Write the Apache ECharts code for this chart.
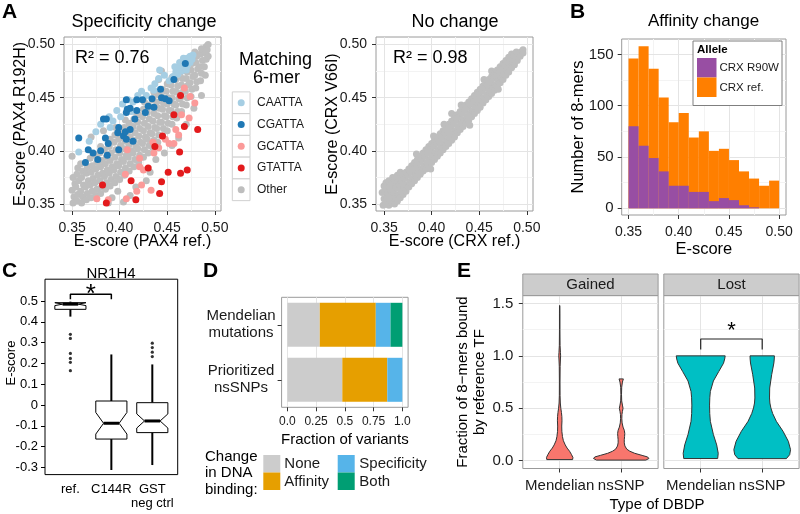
<!DOCTYPE html>
<html><head><meta charset="utf-8">
<script src="https://cdn.jsdelivr.net/npm/echarts@6.0.0/dist/echarts.min.js"></script>
<style>html,body{margin:0;padding:0;background:#fff}#c{width:800px;height:514px}</style>
</head><body><div id="c"></div>
<script>
// ================= DATA =================
// Panel A – Specificity change (PAX4)
const aTicks = [0.35, 0.40, 0.45, 0.50];
const aMinor = [0.375, 0.425, 0.475];
const aLegendLabels = ['CAATTA', 'CGATTA', 'GCATTA', 'GTATTA', 'Other'];
const aOther = [
[0.351,0.351],[0.352,0.357],[0.350,0.363],[0.353,0.369],[0.351,0.375],[0.350,0.395],
[0.355,0.353],[0.356,0.359],[0.354,0.366],[0.357,0.372],[0.355,0.378],[0.356,0.384],
[0.360,0.351],[0.361,0.357],[0.359,0.362],[0.362,0.368],[0.360,0.375],[0.361,0.381],[0.359,0.388],
[0.365,0.354],[0.366,0.360],[0.364,0.366],[0.367,0.372],[0.365,0.379],[0.366,0.385],
[0.370,0.356],[0.371,0.362],[0.369,0.368],[0.372,0.374],[0.370,0.380],[0.371,0.386],[0.369,0.393],[0.370,0.413],
[0.375,0.358],[0.376,0.364],[0.374,0.370],[0.377,0.377],[0.375,0.383],[0.376,0.389],[0.374,0.396],
[0.380,0.360],[0.381,0.366],[0.379,0.372],[0.382,0.379],[0.380,0.385],[0.381,0.391],[0.379,0.398],[0.380,0.404],
[0.385,0.364],[0.386,0.370],[0.384,0.376],[0.387,0.382],[0.385,0.388],[0.386,0.394],[0.384,0.401],[0.383,0.419],
[0.390,0.367],[0.391,0.373],[0.389,0.379],[0.392,0.385],[0.390,0.391],[0.391,0.398],[0.389,0.404],[0.390,0.411],
[0.395,0.370],[0.396,0.376],[0.394,0.382],[0.397,0.388],[0.395,0.394],[0.396,0.401],[0.394,0.408],[0.395,0.415],[0.396,0.422],
[0.400,0.373],[0.401,0.380],[0.399,0.386],[0.402,0.392],[0.400,0.398],[0.401,0.405],[0.399,0.411],[0.400,0.418],
[0.405,0.377],[0.406,0.384],[0.404,0.390],[0.407,0.396],[0.405,0.402],[0.406,0.409],[0.404,0.415],[0.405,0.422],[0.406,0.429],
[0.410,0.381],[0.411,0.388],[0.409,0.394],[0.412,0.400],[0.410,0.406],[0.411,0.413],[0.409,0.419],[0.410,0.426],
[0.415,0.385],[0.416,0.392],[0.414,0.398],[0.417,0.404],[0.415,0.410],[0.416,0.417],[0.414,0.423],[0.415,0.430],[0.416,0.437],
[0.420,0.389],[0.421,0.396],[0.419,0.402],[0.422,0.408],[0.420,0.414],[0.421,0.421],[0.419,0.427],[0.420,0.434],
[0.425,0.394],[0.426,0.401],[0.424,0.407],[0.427,0.413],[0.425,0.419],[0.426,0.426],[0.424,0.432],[0.425,0.439],[0.426,0.446],
[0.430,0.398],[0.431,0.405],[0.429,0.411],[0.432,0.417],[0.430,0.423],[0.431,0.430],[0.429,0.436],[0.430,0.443],
[0.435,0.403],[0.436,0.410],[0.434,0.416],[0.437,0.422],[0.435,0.428],[0.436,0.435],[0.434,0.441],[0.435,0.448],[0.436,0.455],
[0.440,0.408],[0.441,0.415],[0.439,0.421],[0.442,0.427],[0.440,0.433],[0.441,0.440],[0.439,0.446],[0.440,0.453],[0.441,0.467],
[0.445,0.414],[0.446,0.421],[0.444,0.427],[0.447,0.433],[0.445,0.439],[0.446,0.445],[0.444,0.451],[0.445,0.458],[0.444,0.475],
[0.450,0.419],[0.451,0.426],[0.449,0.432],[0.452,0.438],[0.450,0.444],[0.451,0.450],[0.449,0.456],[0.450,0.463],
[0.455,0.425],[0.456,0.432],[0.454,0.438],[0.457,0.444],[0.455,0.450],[0.456,0.456],[0.454,0.462],[0.455,0.469],
[0.460,0.431],[0.461,0.437],[0.459,0.443],[0.462,0.449],[0.460,0.455],[0.461,0.461],[0.459,0.467],[0.460,0.474],
[0.465,0.437],[0.466,0.444],[0.464,0.450],[0.467,0.456],[0.465,0.462],[0.466,0.468],[0.464,0.474],[0.465,0.480],
[0.470,0.443],[0.471,0.450],[0.469,0.456],[0.472,0.462],[0.470,0.468],[0.471,0.474],[0.469,0.480],[0.470,0.486],
[0.475,0.451],[0.476,0.458],[0.474,0.464],[0.477,0.470],[0.475,0.476],[0.476,0.482],[0.474,0.488],
[0.480,0.459],[0.481,0.465],[0.479,0.471],[0.482,0.477],[0.480,0.483],[0.481,0.489],[0.479,0.493],
[0.485,0.466],[0.486,0.473],[0.484,0.479],[0.487,0.485],[0.485,0.491],[0.486,0.496],
[0.490,0.471],[0.489,0.479],[0.491,0.486],[0.490,0.492],[0.491,0.498],
[0.493,0.489],[0.492,0.495],[0.493,0.500],
[0.392,0.356],[0.398,0.362],[0.404,0.352],[0.411,0.358],[0.417,0.366],[0.428,0.372],[0.432,0.380],
[0.438,0.392],[0.447,0.398],[0.455,0.405],[0.462,0.412],[0.470,0.425],[0.478,0.440],[0.486,0.452],[0.388,0.351]
];
const aCAATTA = [
[0.452,0.466],[0.456,0.470],[0.459,0.474],[0.462,0.478],[0.465,0.481],[0.468,0.484],[0.471,0.487],[0.474,0.489],
[0.477,0.490],[0.461,0.472],[0.465,0.475],[0.468,0.478],[0.471,0.480],[0.474,0.483],[0.467,0.487],[0.463,0.483],
[0.470,0.476],[0.476,0.486],[0.458,0.479],
[0.357,0.399],[0.368,0.409],[0.375,0.418],[0.380,0.425],[0.389,0.432],[0.393,0.428],[0.397,0.438],[0.403,0.444],
[0.409,0.448],[0.414,0.446],[0.419,0.452],[0.423,0.456],[0.428,0.452],[0.433,0.459],[0.437,0.463],[0.441,0.468],
[0.442,0.476],[0.447,0.471],[0.401,0.432],[0.412,0.437],[0.436,0.457],[0.390,0.422]
];
const aCGATTA = [
[0.357,0.412],[0.367,0.401],[0.364,0.389],[0.372,0.398],[0.377,0.392],[0.380,0.400],[0.387,0.396],[0.385,0.412],
[0.388,0.407],[0.383,0.430],[0.386,0.430],[0.398,0.417],[0.399,0.422],[0.404,0.414],[0.406,0.418],[0.407,0.411],
[0.414,0.409],[0.411,0.420],[0.416,0.430],[0.408,0.439],[0.407,0.436],[0.411,0.440],[0.407,0.448],[0.418,0.448],
[0.418,0.438],[0.424,0.448],[0.427,0.436],[0.430,0.442],[0.434,0.449],[0.436,0.441],[0.443,0.458],[0.444,0.450],
[0.448,0.449],[0.452,0.447],[0.457,0.467],[0.469,0.482],[0.399,0.401]
];
const aGCATTA = [
[0.468,0.459],[0.474,0.451],[0.465,0.434],[0.473,0.431],[0.459,0.420],[0.462,0.415],[0.452,0.407],[0.457,0.407],
[0.448,0.411],[0.436,0.398],[0.421,0.393],[0.408,0.401],[0.421,0.385],[0.425,0.382],[0.406,0.378],[0.423,0.368],
[0.418,0.362],[0.407,0.355],[0.433,0.363],[0.376,0.355],[0.388,0.354],[0.435,0.408],[0.479,0.445],[0.441,0.403]
];
const aGTATTA = [
[0.464,0.452],[0.457,0.434],[0.468,0.423],[0.482,0.420],[0.445,0.414],[0.437,0.404],[0.463,0.399],[0.430,0.384],
[0.451,0.380],[0.464,0.379],[0.471,0.382],[0.444,0.371],[0.412,0.372],[0.382,0.368],[0.442,0.360],[0.417,0.354],[0.386,0.351]
];
const aR2Labels = ['R\u00B2 = 0.76', 'R\u00B2 = 0.98'];
// Panel A – No change (CRX V66I)
const crxPoints = [
[0.349,0.349],[0.350,0.355],[0.348,0.361],[0.350,0.367],
[0.352,0.351],[0.353,0.357],[0.351,0.363],[0.352,0.370],
[0.355,0.349],[0.356,0.354],[0.354,0.360],[0.356,0.366],[0.355,0.372],
[0.358,0.352],[0.359,0.357],[0.357,0.363],[0.358,0.369],[0.359,0.375],
[0.361,0.350],[0.362,0.355],[0.360,0.361],[0.362,0.367],[0.361,0.373],
[0.364,0.353],[0.365,0.359],[0.363,0.365],[0.365,0.371],[0.364,0.377],
[0.367,0.356],[0.368,0.362],[0.366,0.368],[0.368,0.374],[0.367,0.380],
[0.370,0.359],[0.371,0.365],[0.369,0.371],[0.370,0.377],
[0.373,0.362],[0.374,0.368],[0.372,0.374],[0.373,0.380],
[0.376,0.366],[0.377,0.371],[0.375,0.377],[0.376,0.383],
[0.379,0.369],[0.380,0.374],[0.378,0.380],[0.379,0.386],
[0.382,0.372],[0.383,0.377],[0.381,0.383],[0.382,0.389],
[0.385,0.375],[0.386,0.380],[0.384,0.386],[0.385,0.392],[0.384,0.397],
[0.388,0.378],[0.389,0.383],[0.387,0.389],[0.388,0.395],
[0.391,0.381],[0.392,0.386],[0.390,0.392],[0.391,0.398],
[0.394,0.383],[0.395,0.389],[0.393,0.395],[0.394,0.401],
[0.397,0.386],[0.398,0.392],[0.396,0.398],[0.397,0.404],[0.399,0.383],
[0.400,0.389],[0.401,0.395],[0.399,0.401],[0.400,0.407],
[0.403,0.392],[0.404,0.398],[0.402,0.404],[0.403,0.410],[0.402,0.414],
[0.406,0.395],[0.407,0.401],[0.405,0.407],[0.406,0.413],
[0.409,0.398],[0.410,0.404],[0.408,0.410],[0.409,0.416],
[0.412,0.401],[0.413,0.407],[0.411,0.413],[0.412,0.419],[0.413,0.425],
[0.415,0.404],[0.416,0.410],[0.414,0.416],[0.415,0.422],
[0.418,0.407],[0.419,0.413],[0.417,0.419],[0.418,0.425],
[0.421,0.410],[0.422,0.416],[0.420,0.422],[0.421,0.428],[0.421,0.435],
[0.424,0.413],[0.425,0.419],[0.423,0.425],[0.424,0.431],
[0.427,0.417],[0.428,0.423],[0.426,0.429],[0.427,0.434],
[0.430,0.420],[0.431,0.426],[0.429,0.432],[0.430,0.437],[0.431,0.443],
[0.433,0.423],[0.434,0.429],[0.432,0.435],[0.433,0.440],
[0.436,0.426],[0.437,0.432],[0.435,0.438],[0.436,0.443],
[0.439,0.429],[0.440,0.435],[0.438,0.441],[0.439,0.446],[0.440,0.424],
[0.442,0.432],[0.443,0.438],[0.441,0.444],[0.442,0.449],
[0.445,0.435],[0.446,0.441],[0.444,0.447],[0.445,0.452],
[0.448,0.438],[0.449,0.444],[0.447,0.450],[0.448,0.455],
[0.451,0.441],[0.452,0.447],[0.450,0.453],[0.451,0.458],
[0.454,0.445],[0.455,0.450],[0.453,0.456],[0.454,0.461],[0.455,0.467],
[0.457,0.448],[0.458,0.453],[0.456,0.459],[0.457,0.464],
[0.460,0.451],[0.461,0.456],[0.459,0.462],[0.460,0.467],
[0.463,0.454],[0.464,0.459],[0.462,0.465],[0.463,0.470],[0.463,0.475],
[0.466,0.457],[0.467,0.462],[0.465,0.468],[0.466,0.473],
[0.469,0.461],[0.470,0.466],[0.468,0.471],[0.469,0.476],[0.470,0.458],
[0.472,0.464],[0.473,0.469],[0.471,0.474],[0.472,0.479],
[0.475,0.467],[0.476,0.472],[0.474,0.477],[0.475,0.482],
[0.478,0.471],[0.479,0.476],[0.477,0.481],[0.478,0.485],
[0.481,0.474],[0.482,0.479],[0.480,0.484],[0.481,0.488],
[0.484,0.478],[0.485,0.482],[0.483,0.487],[0.484,0.491],
[0.487,0.481],[0.488,0.486],[0.486,0.490],
[0.490,0.485],[0.491,0.489],[0.489,0.493],
[0.493,0.489],[0.494,0.493],
[0.496,0.492],[0.496,0.495]
];
// Panel B – Affinity change histogram
const bBinEdges = [0.35,0.36,0.37,0.38,0.39,0.40,0.41,0.42,0.43,0.44,0.45,0.46,0.47,0.48,0.49,0.50];
const bRefCounts  = [146,158,136,108,84,93,69,75,56,58,47,36,29,22,27];
const bR90WCounts = [80,61,49,36,22,22,16,16,7,10,8,3,1,0,0];
const bXTicks = [0.35, 0.40, 0.45, 0.50];
const bXMinor = [0.375, 0.425, 0.475];
const bYTicks = [0, 50, 100, 150];
const bYMinor = [25, 75, 125];
const bLegendLabels = ['CRX R90W', 'CRX ref.'];
// Panel C – NR1H4 boxplots
const cCats = ['ref.', 'C144R', 'GST\nneg ctrl'];
// [x, lowWhisker, Q1, notchLow, median, notchHigh, Q3, highWhisker]
const cBoxes = [
  [1, 0.425, 0.460, 0.478, 0.485, 0.492, 0.492, 0.497],
  [2, -0.313, -0.164, -0.140, -0.088, -0.036, 0.019, 0.243],
  [3, -0.289, -0.133, -0.111, -0.077, -0.043, 0.011, 0.195]
];
const cOutliers = [[1,0.340],[1,0.320],[1,0.248],[1,0.224],[1,0.205],[1,0.165],[3,0.297],[3,0.276],[3,0.254],[3,0.233]];
const cYTicks = [-0.3,-0.2,-0.1,0,0.1,0.2,0.3,0.4,0.5];
const cBracket = [[1,0.508],[1,0.532],[2,0.532],[2,0.508]];
const cStar = [[1.5,0.561]];
// Panel D – fraction of variants
const dCats = ['Prioritized\nnsSNPs', 'Mendelian\nmutations'];
const dNone        = [0.478, 0.282];
const dAffinity    = [0.391, 0.487];
const dSpecificity = [0.131, 0.128];
const dBoth        = [0.000, 0.103];
const dXTicks  = [0, 0.25, 0.5, 0.75, 1];
const dXLabels = ['0.0', '0.25', '0.5', '0.75', '1.0'];
const dLegendLabels = ['None', 'Affinity', 'Specificity', 'Both'];
// Panel E – violins
const eCats = ['Mendelian', 'nsSNP'];
const eFacets = ['Gained', 'Lost'];
const eYTicks = [0, 0.5, 1.0, 1.5];
const eYMinor = [0.25, 0.75, 1.25];
const gainedMendelianY = [0.01,0.03,0.06,0.09,0.12,0.15,0.19,0.23,0.28,0.33,0.38,0.42,0.46,0.50,0.55,0.62,0.75,0.90,0.97,1.00,1.03,1.10,1.25,1.40,1.48];
const gainedMendelianW = [0.21,0.215,0.19,0.16,0.12,0.09,0.06,0.045,0.035,0.033,0.037,0.035,0.028,0.018,0.01,0.006,0.005,0.007,0.012,0.015,0.012,0.006,0.004,0.004,0.003];
const gainedNsSNPY = [0.005,0.02,0.035,0.05,0.07,0.09,0.11,0.14,0.17,0.20,0.23,0.26,0.29,0.32,0.36,0.40,0.44,0.47,0.50,0.53,0.57,0.63,0.70,0.75,0.78];
const gainedNsSNPW = [0.40,0.45,0.43,0.34,0.22,0.14,0.09,0.06,0.05,0.05,0.055,0.058,0.05,0.03,0.015,0.01,0.012,0.02,0.03,0.02,0.008,0.005,0.008,0.02,0.035];
const lostMendelianY = [0.02,0.07,0.15,0.25,0.375,0.45,0.53,0.60,0.66,0.76,0.85,0.93,0.97,1.00];
const lostMendelianW = [0.276,0.285,0.26,0.206,0.157,0.147,0.144,0.148,0.157,0.206,0.293,0.371,0.39,0.398];
const lostNsSNPY = [0.019,0.057,0.105,0.184,0.28,0.375,0.45,0.503,0.55,0.598,0.693,0.82,0.932,0.97,1.00];
const lostNsSNPW = [0.393,0.447,0.461,0.425,0.339,0.23,0.17,0.141,0.125,0.119,0.122,0.154,0.19,0.196,0.198];
const eBracket = [[1,1.06],[1,1.161],[2,1.161],[2,1.06]];
const eStar = [[1.5,1.282]];

// ================= STYLE =================
const F = "'Liberation Sans', Arial, Helvetica, sans-serif";
const TXT = '#1a1a1a', BORDER = '#9a9a9a', MAJ = '#E4E4E4', MINC = '#F3F3F3', TICK = '#333333';
const colA = ['#A6CEE3', '#1F78B4', '#FB9A99', '#E31A1C', '#BEBEBE'];
const colB = ['#984EA3', '#FF7F00'];
const colD = ['#CCCCCC', '#E69F00', '#56B4E9', '#009E73'];
const colE = ['#F8766D', '#00BFC4'];

const chart = echarts.init(document.getElementById('c'), null, {renderer: 'canvas', width: 800, height: 514});

const gridDefs = [
  {left: 64, top: 37, width: 157, height: 174},        // 0 A left
  {left: 376, top: 37, width: 157, height: 174},       // 1 A right
  {left: 621.7, top: 39, width: 164.3, height: 176},   // 2 B
  {left: 45, top: 279.2, width: 132.7, height: 195.4}, // 3 C
  {left: 281.6, top: 297.3, width: 126.5, height: 110},// 4 D
  {left: 522.8, top: 295.6, width: 135.3, height: 172.9}, // 5 E gained
  {left: 663.8, top: 295.6, width: 135.3, height: 172.9}  // 6 E lost
];
const grids = gridDefs.map((g, i) => Object.assign({
  show: true, backgroundColor: '#fff', borderColor: i === 3 ? '#000' : BORDER, borderWidth: 1,
  containLabel: false, outerBoundsMode: 'none'
}, g));

function vAxis(o) {
  const a = {
    type: 'value', gridIndex: o.g, min: o.min, max: o.max, position: o.pos, z: 2,
    axisLine: {show: false, onZero: false},
    axisTick: {show: o.tickShow !== false, customValues: o.ticks, length: 4, inside: false,
      lineStyle: {color: o.tickColor || TICK, width: 1}},
    axisLabel: {show: o.labelShow !== false, customValues: o.ticks, formatter: o.fmt, margin: o.margin,
      color: o.labelColor || TXT, fontSize: o.fs, fontFamily: F, hideOverlap: false, lineHeight: o.lh,
      showMinLabel: true, showMaxLabel: true},
    splitLine: {show: !!o.split, lineStyle: {color: MAJ, width: 1}},
    minorTick: {show: false}, minorSplitLine: {show: false},
    nameMoveOverlap: false
  };
  if (o.name) {
    a.name = o.name; a.nameLocation = 'middle'; a.nameGap = o.gap;
    a.nameTextStyle = {fontFamily: F, fontSize: o.nfs, color: '#000', lineHeight: o.nlh};
  }
  return a;
}
function minorAxis(g, min, max, vals, pos) {
  return {type: 'value', gridIndex: g, min: min, max: max, position: pos, z: 1,
    axisLine: {show: false, onZero: false}, axisTick: {show: false, customValues: vals},
    axisLabel: {show: false, customValues: vals},
    splitLine: {show: true, lineStyle: {color: MINC, width: 1}}};
}
const f2 = v => v.toFixed(2);
const f1 = v => v.toFixed(1);
const cLine = (v, k) => (cCats[Math.round(v) - 1].split('\n')[k] || '');

const xAxes = [
  vAxis({g:0, min:0.3415, max:0.5065, pos:'bottom', ticks:aTicks, fmt:f2, margin:10, fs:14, split:true,
         name:'E-score (PAX4 ref.)', gap:23, nfs:16}),
  vAxis({g:1, min:0.3415, max:0.5065, pos:'bottom', ticks:aTicks, fmt:f2, margin:10, fs:14, split:true,
         name:'E-score (CRX ref.)', gap:23, nfs:16}),
  vAxis({g:2, min:0.3432, max:0.5068, pos:'bottom', ticks:bXTicks, fmt:f2, margin:10, fs:14, split:true,
         name:'E-score', gap:26, nfs:16.5}),
  // C: first line of each category label
  vAxis({g:3, min:0.38, max:3.62, pos:'bottom', ticks:[1,2,3], fmt:v => cLine(v, 0), margin:8.5, fs:13,
         tickShow:false, labelColor:'#000'}),
  vAxis({g:4, min:-0.05, max:1.05, pos:'bottom', ticks:dXTicks, fmt:v => dXLabels[dXTicks.indexOf(v)],
         margin:8, fs:12, split:true, name:'Fraction of variants', gap:25, nfs:15}),
  vAxis({g:5, min:0.4, max:2.6, pos:'bottom', ticks:[1,2], fmt:v => eCats[Math.round(v)-1], margin:9.5, fs:15, split:true}),
  vAxis({g:6, min:0.4, max:2.6, pos:'bottom', ticks:[1,2], fmt:v => eCats[Math.round(v)-1], margin:9.5, fs:15, split:true}),
  minorAxis(0, 0.3415, 0.5065, aMinor, 'bottom'),
  minorAxis(1, 0.3415, 0.5065, aMinor, 'bottom'),
  minorAxis(2, 0.3432, 0.5068, bXMinor, 'bottom'),
  // C: second line of category labels ("neg ctrl")
  vAxis({g:3, min:0.38, max:3.62, pos:'bottom', ticks:[3], fmt:v => cLine(v, 1), margin:22.5, fs:13,
         tickShow:false, labelColor:'#000'})
];
const yAxes = [
  vAxis({g:0, min:0.3435, max:0.507, pos:'left', ticks:aTicks, fmt:f2, margin:9, fs:14, split:true,
         name:'E-score (PAX4 R192H)', gap:35.5, nfs:16}),
  vAxis({g:1, min:0.3435, max:0.507, pos:'left', ticks:aTicks, fmt:f2, margin:9, fs:14, split:true,
         name:'E-score (CRX V66I)', gap:35.5, nfs:16}),
  vAxis({g:2, min:-6.5, max:165, pos:'left', ticks:bYTicks, fmt:v => String(v), margin:8, fs:15, split:true,
         name:'Number of 8-mers', gap:35, nfs:16.5}),
  vAxis({g:3, min:-0.335, max:0.605, pos:'left', ticks:cYTicks,
         fmt:v => (Math.abs(v) < 1e-9 ? '0' : v.toFixed(1)), margin:7, fs:13, tickColor:'#000', labelColor:'#000'}),
  {type:'category', gridIndex:4, data:dCats, position:'left', z:2,
    axisLine:{show:false, onZero:false}, axisTick:{show:true, alignWithLabel:true, length:4, lineStyle:{color:TICK}},
    axisLabel:{align:'center', margin:40.6, fontSize:15, fontFamily:F, color:TXT, lineHeight:17, interval:0},
    splitLine:{show:false}},
  vAxis({g:5, min:-0.075, max:1.575, pos:'left', ticks:eYTicks, fmt:f1, margin:9.5, fs:15, split:true,
         name:'Fraction of 8\u2212mers bound\nby reference TF', gap:34, nfs:15, nlh:17}),
  vAxis({g:6, min:-0.075, max:1.575, pos:'left', ticks:eYTicks, fmt:f1, margin:9.5, fs:15, split:true,
         tickShow:false, labelShow:false}),
  minorAxis(0, 0.3435, 0.507, aMinor, 'left'),
  minorAxis(1, 0.3435, 0.507, aMinor, 'left'),
  minorAxis(2, -6.5, 165, bYMinor, 'left'),
  minorAxis(5, -0.075, 1.575, eYMinor, 'left'),
  minorAxis(6, -0.075, 1.575, eYMinor, 'left')
];

// ================= SERIES =================
function scatter(data, color, idx) {
  return {type:'scatter', xAxisIndex:idx, yAxisIndex:idx, data:data, symbolSize:7,
    itemStyle:{color:color, opacity:1}, silent:true, z:3};
}
function hist(counts, color) {
  return {type:'custom', xAxisIndex:2, yAxisIndex:2, silent:true, z:3,
    data: counts.map((c, i) => [bBinEdges[i], bBinEdges[i+1], c]),
    encode:{x:[0,1], y:2},
    renderItem: function (params, api) {
      const a = api.coord([api.value(0), api.value(2)]);
      const b = api.coord([api.value(1), 0]);
      return {type:'rect', shape:{x:a[0], y:a[1], width:b[0]-a[0], height:b[1]-a[1]}, style:{fill:color}};
    }};
}
const BOX_HALF = 0.38;
const boxSeries = {
  type:'custom', xAxisIndex:3, yAxisIndex:3, silent:true, z:3, data:cBoxes,
  encode:{x:0, y:[1,2,3,4,5,6,7]},
  renderItem: function (params, api) {
    const x = api.value(0), wl = api.value(1), q1 = api.value(2), nl = api.value(3),
          md = api.value(4), nh = api.value(5), q3 = api.value(6), wh = api.value(7);
    const h = BOX_HALF;
    const P = (xx, yy) => api.coord([xx, yy]);
    const poly = [P(x-h,q3), P(x+h,q3), P(x+h,nh), P(x+h/2,md), P(x+h,nl), P(x+h,q1),
                  P(x-h,q1), P(x-h,nl), P(x-h/2,md), P(x-h,nh)];
    const c1 = P(x, wh), c2 = P(x, q3), c3 = P(x, q1), c4 = P(x, wl);
    const m1 = P(x-h/2, md), m2 = P(x+h/2, md);
    return {type:'group', children:[
      {type:'line', shape:{x1:c1[0], y1:c1[1], x2:c2[0], y2:c2[1]}, style:{stroke:'#000', lineWidth:2}},
      {type:'line', shape:{x1:c3[0], y1:c3[1], x2:c4[0], y2:c4[1]}, style:{stroke:'#000', lineWidth:2}},
      {type:'polygon', shape:{points:poly}, style:{fill:'#fff', stroke:'#000', lineWidth:1}},
      {type:'line', shape:{x1:m1[0], y1:m1[1], x2:m2[0], y2:m2[1]}, style:{stroke:'#000', lineWidth:3}}
    ]};
  }
};
const VIOLINS = [[gainedMendelianY, gainedMendelianW], [gainedNsSNPY, gainedNsSNPW],
                 [lostMendelianY, lostMendelianW], [lostNsSNPY, lostNsSNPW]];
function violinSeries(idx, data, color) {
  return {type:'custom', xAxisIndex:idx, yAxisIndex:idx, silent:true, z:3, data:data, encode:{x:0, y:1},
    renderItem: function (params, api) {
      const c = api.value(0); const prof = VIOLINS[api.value(1)];
      const ys = prof[0], ws = prof[1]; const pts = [];
      for (let i = 0; i < ys.length; i++) pts.push(api.coord([c + ws[i], ys[i]]));
      for (let i = ys.length - 1; i >= 0; i--) pts.push(api.coord([c - ws[i], ys[i]]));
      return {type:'polygon', shape:{points:pts}, style:{fill:color, stroke:'#333', lineWidth:1}};
    }};
}
function bracket(idx, data, color, w) {
  return {type:'line', xAxisIndex:idx, yAxisIndex:idx, data:data, symbol:'none', silent:true, z:4,
    lineStyle:{color:color, width:w}, animation:false};
}
function star(idx, data, size, dy) {
  return {type:'custom', xAxisIndex:idx, yAxisIndex:idx, data:data, silent:true, z:5, encode:{x:0, y:1},
    renderItem: function (params, api) {
      const p = api.coord([api.value(0), api.value(1)]);
      return {type:'text', x:p[0], y:p[1] + dy,
        style:{text:'*', fill:'#000', font:size + 'px ' + F, align:'center', verticalAlign:'middle'}};
    }};
}
function dBar(name, data, color) {
  return {type:'bar', name:name, xAxisIndex:4, yAxisIndex:4, stack:'d', data:data, barCategoryGap:'20%',
    itemStyle:{color:color}, silent:true, z:3};
}

const series = [
  scatter(aOther, colA[4], 0), scatter(aCAATTA, colA[0], 0), scatter(aGCATTA, colA[2], 0),
  scatter(aCGATTA, colA[1], 0), scatter(aGTATTA, colA[3], 0),
  scatter(crxPoints, colA[4], 1),
  hist(bRefCounts, colB[1]), hist(bR90WCounts, colB[0]),
  boxSeries,
  {type:'scatter', xAxisIndex:3, yAxisIndex:3, data:cOutliers, symbolSize:3.2, itemStyle:{color:'#000'}, silent:true, z:4},
  bracket(3, cBracket, '#000', 1.5), star(3, cStar, 26, 6),
  dBar(dLegendLabels[0], dNone, colD[0]), dBar(dLegendLabels[1], dAffinity, colD[1]),
  dBar(dLegendLabels[2], dSpecificity, colD[2]), dBar(dLegendLabels[3], dBoth, colD[3]),
  violinSeries(5, [[1,0],[2,1]], colE[0]), violinSeries(6, [[1,2],[2,3]], colE[1]),
  bracket(6, eBracket, '#222', 1.2), star(6, eStar, 22, 5)
];

// ================= FREE TEXT / LEGENDS =================
function T(x, y, text, size, opt) {
  opt = opt || {};
  return {type:'text', x:x, y:y, z:100, silent:true, rotation: opt.rot || 0,
    style:{text:text, fill: opt.fill || '#000', font:(opt.bold ? 'bold ' : '') + size + 'px ' + F,
      align: opt.align || 'center', verticalAlign:'middle', lineHeight: opt.lh}};
}
function R(x, y, w, h, fill, stroke) {
  return {type:'rect', z:100, silent:true, shape:{x:x, y:y, width:w, height:h},
    style:{fill:fill, stroke:stroke || null, lineWidth:1}};
}
const els = [];
// panel letters
els.push(T(2, 12.5, 'A', 21, {bold:true, align:'left'}));
els.push(T(570, 12, 'B', 21, {bold:true, align:'left'}));
els.push(T(2, 271, 'C', 21, {bold:true, align:'left'}));
els.push(T(203, 271, 'D', 21, {bold:true, align:'left'}));
els.push(T(457, 271, 'E', 21, {bold:true, align:'left'}));
// titles
els.push(T(144, 22, 'Specificity change', 18));
els.push(T(455, 22, 'No change', 18));
els.push(T(703.5, 21.5, 'Affinity change', 17));
els.push(T(111, 274, 'NR1H4', 15));
els.push(T(75, 58, aR2Labels[0], 18, {align:'left'}));
els.push(T(393, 58, aR2Labels[1], 18, {align:'left'}));
// C y-axis title
els.push(T(11, 363, 'E-score', 13, {rot: Math.PI / 2}));
// legend A
els.push(T(275.5, 60, 'Matching', 18));
els.push(T(276.5, 78, '6-mer', 18));
for (let i = 0; i < aLegendLabels.length; i++) {
  const top = 91.9 + i * 21.75;
  els.push(R(232.3, top, 17.7, 21.75, '#fff', '#D0D0D0'));
  els.push({type:'circle', z:101, silent:true, shape:{cx:241.2, cy:top + 10.9, r:3.5}, style:{fill:colA[i]}});
  els.push(T(257, top + 10.9, aLegendLabels[i], 12, {align:'left', fill:TXT}));
}
// legend B
els.push(R(693, 41, 89, 64.5, '#fff', '#7F7F7F'));
els.push(T(697, 50, 'Allele', 11.5, {bold:true, align:'left'}));
els.push(R(697, 58, 19.5, 19.5, colB[0]));
els.push(R(697, 77.5, 19.5, 19.5, colB[1]));
els.push(T(719.5, 68, bLegendLabels[0], 11.5, {align:'left', fill:TXT}));
els.push(T(719.5, 87.5, bLegendLabels[1], 11.5, {align:'left', fill:TXT}));
// legend D
els.push(T(205, 456.7, 'Change', 15, {align:'left'}));
els.push(T(205, 473.3, 'in DNA', 15, {align:'left'}));
els.push(T(205, 490, 'binding:', 15, {align:'left'}));
els.push(R(263.3, 455, 17, 17.5, colD[0]));
els.push(R(263.3, 472.5, 17, 17.5, colD[1]));
els.push(R(337.7, 455, 17, 17.5, colD[2]));
els.push(R(337.7, 472.5, 17, 17.5, colD[3]));
els.push(T(284.3, 464, dLegendLabels[0], 15, {align:'left', fill:TXT}));
els.push(T(284.3, 482.3, dLegendLabels[1], 15, {align:'left', fill:TXT}));
els.push(T(359.3, 464, dLegendLabels[2], 15, {align:'left', fill:TXT}));
els.push(T(359.3, 482.3, dLegendLabels[3], 15, {align:'left', fill:TXT}));
// E strips and x title
els.push(R(522.8, 274, 135.3, 21.6, '#CCCCCC', BORDER));
els.push(R(663.8, 274, 135.3, 21.6, '#CCCCCC', BORDER));
els.push(T(590.5, 285, eFacets[0], 15, {fill:TXT}));
els.push(T(731.5, 285, eFacets[1], 15, {fill:TXT}));
els.push(T(657, 505, 'Type of DBDP', 15));

chart.setOption({
  animation: false,
  backgroundColor: '#fff',
  textStyle: {fontFamily: F},
  grid: grids,
  xAxis: xAxes,
  yAxis: yAxes,
  series: series,
  graphic: {elements: els}
});
</script></body></html>
